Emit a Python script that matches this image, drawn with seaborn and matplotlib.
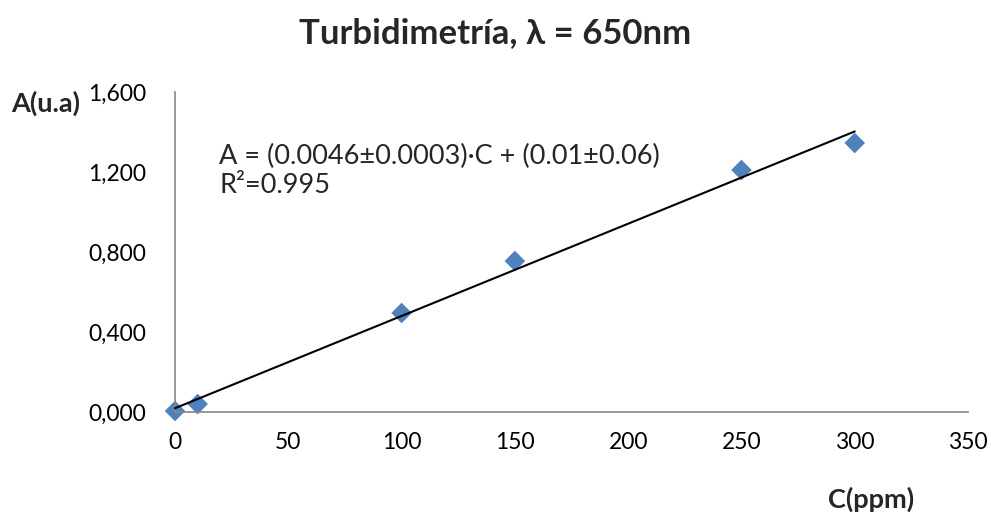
import matplotlib
matplotlib.use("Agg")
import matplotlib.pyplot as plt
import seaborn as sns
import numpy as np
import pandas as pd

# Data
conc_ppm = [0, 10, 100, 150, 250, 300]
absorbance = [0.005, 0.04, 0.495, 0.755, 1.21, 1.345]
x_ticks = [0, 50, 100, 150, 200, 250, 300, 350]
y_ticks = [0.0, 0.4, 0.8, 1.2, 1.6]
y_tick_labels = ["0,000", "0,400", "0,800", "1,200", "1,600"]
title = "Turbidimetría, λ = 650nm"
equation = "A = (0.0046±0.0003)·C + (0.01±0.06)\nR²=0.995"

df = pd.DataFrame({"C": conc_ppm, "A": absorbance})

sns.set_style("white")
plt.rcParams["font.family"] = ["Lato", "DejaVu Sans"]

fig = plt.figure(figsize=(9.91, 5.12), dpi=100)
ax = fig.add_axes([0.1766, 0.1953, 0.8002, 0.625])

sns.regplot(data=df, x="C", y="A", ax=ax, ci=None, truncate=True,
            marker="D",
            scatter_kws=dict(s=110, color="#4F81BD", edgecolors="none", alpha=1,
                             zorder=2, clip_on=False),
            line_kws=dict(color="black", lw=1.5, zorder=3, clip_on=False))

ax.set_xlim(0, 350)
ax.set_ylim(0, 1.6)
ax.set_xticks(x_ticks)
ax.set_xticklabels([str(t) for t in x_ticks])
ax.set_yticks(y_ticks)
ax.set_yticklabels(y_tick_labels)
ax.set_xlabel("")
ax.set_ylabel("")

for s in ["top", "right"]:
    ax.spines[s].set_visible(False)
for s in ["left", "bottom"]:
    ax.spines[s].set_color("#868686")
    ax.spines[s].set_linewidth(1.2)
ax.tick_params(axis="both", direction="out", length=6.5, width=1.2, color="#868686",
               labelsize=16.5, labelcolor="black")
ax.tick_params(axis="y", pad=14)
ax.tick_params(axis="x", pad=8)

ax.text(0.0555, 0.753, equation, transform=ax.transAxes, fontsize=19.5,
        va="center", ha="left", linespacing=1.18)

fig.text(0.5, 0.9355, title, ha="center", va="center", fontsize=25, fontweight="bold")
fig.text(0.0464, 0.799, "A(u.a)", ha="center", va="center", fontsize=19.5, fontweight="bold")
fig.text(0.879, 0.024, "C(ppm)", ha="center", va="center", fontsize=19.5, fontweight="bold")

fig.savefig("out.png", dpi=100)
